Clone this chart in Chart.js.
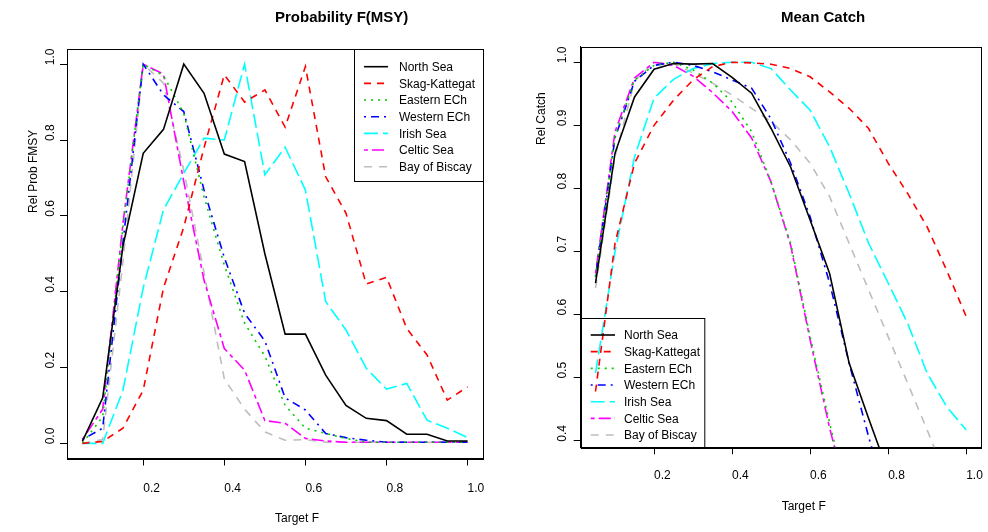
<!DOCTYPE html>
<html>
<head>
<meta charset="utf-8">
<script src="https://cdn.jsdelivr.net/npm/chart.js@4"></script>
<style>
  html, body { margin:0; padding:0; background:#fff; }
  #wrap { position:relative; width:988px; height:532px; overflow:hidden; }
  canvas { position:absolute; top:0; }
  #cProb { left:0; }
  #cCatch { left:500px; }
</style>
</head>
<body>
<div id="wrap">
  <canvas id="cProb" width="500" height="532"></canvas>
  <canvas id="cCatch" width="488" height="532"></canvas>
</div>
<script>
// ---- data ----
const targetF = [0.05,0.10,0.15,0.20,0.25,0.30,0.35,0.40,0.45,0.50,0.55,0.60,0.65,0.70,0.75,0.80,0.85,0.90,0.95,1.00];
const seriesNames = ['North Sea','Skag-Kattegat','Eastern ECh','Western ECh','Irish Sea','Celtic Sea','Bay of Biscay'];

// left panel: Rel Prob FMSY
const probNorthSea = [0.005,0.12,0.52,0.765,0.828,1.0,0.923,0.763,0.743,0.50,0.288,0.288,0.18,0.10,0.066,0.06,0.024,0.024,0.006,0.006];
const probSkag     = [0.0,0.005,0.04,0.14,0.41,0.57,0.78,0.972,0.90,0.932,0.834,0.994,0.703,0.607,0.42,0.438,0.303,0.233,0.114,0.149];
const probEastern  = [0.0,0.07,0.57,1.0,0.97,0.87,0.65,0.47,0.317,0.23,0.10,0.04,0.026,0.013,0.003,0.003,0.003,0.003,0.003,0.003];
const probWestern  = [0.01,0.04,0.53,1.0,0.919,0.875,0.668,0.49,0.343,0.27,0.12,0.088,0.026,0.015,0.008,0.003,0.003,0.003,0.003,0.003];
const probIrish    = [0.0,0.0,0.14,0.41,0.616,0.712,0.805,0.80,1.0,0.708,0.781,0.668,0.374,0.299,0.198,0.143,0.158,0.061,0.04,0.015];
const probCeltic   = [0.01,0.09,0.58,1.0,0.974,0.69,0.43,0.25,0.193,0.06,0.053,0.013,0.006,0.003,0.003,0.003,0.003,0.003,0.003,0.003];
const probBiscay   = [0.0,0.01,0.48,1.0,0.95,0.72,0.45,0.17,0.09,0.03,0.008,0.01,0.003,0.003,0.003,0.003,0.003,0.003,0.003,0.003];

// right panel: Rel Catch
const catchNorthSea = [0.65,0.856,0.945,0.989,0.998,0.997,0.998,0.976,0.951,0.895,0.834,0.75,0.665,0.523,0.435,0.35,0.27,0.20,0.14,0.08];
const catchSkag     = [0.478,0.713,0.84,0.90,0.94,0.972,0.993,1.0,0.999,0.997,0.99,0.977,0.953,0.927,0.895,0.84,0.792,0.739,0.67,0.597];
const catchEastern  = [0.66,0.882,0.972,0.995,1.0,0.988,0.967,0.937,0.89,0.81,0.713,0.565,0.428,0.30,0.20,0.12,0.06,0.02,0.0,0.0];
const catchWestern  = [0.66,0.88,0.97,0.995,1.0,0.995,0.985,0.972,0.959,0.91,0.84,0.755,0.65,0.523,0.406,0.30,0.20,0.12,0.05,0.0];
const catchIrish    = [0.507,0.70,0.85,0.943,0.973,0.99,0.998,1.0,1.0,0.99,0.956,0.924,0.866,0.792,0.713,0.65,0.586,0.507,0.454,0.417];
const catchCeltic   = [0.665,0.89,0.975,1.0,0.995,0.978,0.952,0.922,0.88,0.81,0.71,0.56,0.42,0.30,0.20,0.12,0.06,0.02,0.0,0.0];
const catchBiscay   = [0.642,0.85,0.97,1.0,0.998,0.983,0.967,0.948,0.927,0.906,0.877,0.84,0.787,0.713,0.639,0.565,0.491,0.417,0.34,0.26];

const xTicks = [0.2,0.4,0.6,0.8,1.0];
const probTicks = [0.0,0.2,0.4,0.6,0.8,1.0];
const catchTicks = [0.4,0.5,0.6,0.7,0.8,0.9,1.0];

// R-ish line styles, one per series
const lineColors = ['#000000','#ff0000','#00cd00','#0000ff','#00ffff','#ff00ff','#bebebe'];
const lineDash = [[], [7,6], [2,5], [2,5,8,5], [14,5], [4,4,12,4], [8,7]];

const FONT = '"Liberation Sans", Arial, sans-serif';

// draws the R style bits: box, tick labels, titles, legend
const rDeco = {
  id:'rDeco',
  afterDraw(chart, args, o){
    const {ctx, chartArea:a} = chart;
    const xs = chart.scales.x, ys = chart.scales.y;
    ctx.save();
    ctx.strokeStyle = '#000'; ctx.lineWidth = 1;
    ctx.strokeRect(Math.round(a.left)+0.5, Math.round(a.top)+0.5, Math.round(a.right-a.left), Math.round(a.bottom-a.top));

    ctx.fillStyle = '#000';
    ctx.font = '12px ' + FONT;
    ctx.textAlign = 'left'; ctx.textBaseline = 'alphabetic';
    xTicks.forEach(v => ctx.fillText(v.toFixed(1), xs.getPixelForValue(v), o.xTickY));
    o.yTicks.forEach(v => {
      ctx.save();
      ctx.translate(o.yTickX, ys.getPixelForValue(v) + 1);
      ctx.rotate(-Math.PI/2);
      ctx.fillText(v.toFixed(1), 0, 0);
      ctx.restore();
    });

    ctx.fillText('Target F', o.xlab[0], o.xlab[1]);
    ctx.save();
    ctx.translate(o.ylab[0], o.ylab[1]);
    ctx.rotate(-Math.PI/2);
    ctx.fillText(o.ylabText, 0, 0);
    ctx.restore();

    ctx.font = 'bold 15px ' + FONT;
    ctx.fillText(o.title, o.titlePos[0], o.titlePos[1]);

    // legend
    const L = o.legend;
    ctx.strokeStyle = '#000'; ctx.lineWidth = 1; ctx.setLineDash([]);
    ctx.strokeRect(L.x+0.5, L.y+0.5, L.w, L.h);
    ctx.font = '12px ' + FONT;
    ctx.textBaseline = 'middle';
    chart.data.datasets.forEach((ds, i) => {
      const yy = L.row0 + i*L.step;
      ctx.strokeStyle = ds.borderColor; ctx.lineWidth = ds.borderWidth;
      ctx.setLineDash(ds.borderDash);
      ctx.beginPath(); ctx.moveTo(L.lx0, yy); ctx.lineTo(L.lx1, yy); ctx.stroke();
      ctx.setLineDash([]);
      ctx.fillStyle = '#000';
      ctx.fillText(ds.label, L.tx, yy + 1);
    });
    ctx.restore();
  }
};

function makeDatasets(cols){
  return cols.map((d, i) => ({
    label: seriesNames[i], data: d,
    borderColor: lineColors[i], borderDash: lineDash[i], borderWidth: 1.6,
    pointRadius: 0, tension: 0, fill: false, clip: 0
  }));
}

function axisOpts(min, max, ticks, fitSize, isX){
  return {
    type:'linear', min, max,
    afterBuildTicks: s => { s.ticks = ticks.map(v => ({value:v})); },
    afterFit: s => { if (isX) s.height = fitSize; else s.width = fitSize; },
    ticks:{ display:false },
    grid:{ drawOnChartArea:false, drawTicks:true, tickLength:7, color:'#000', lineWidth:1 },
    border:{ display:true, color:'#000', width:1 }
  };
}

function makeChart(el, cols, yMin, yMax, yTicks, pad, xH, yW, deco){
  return new Chart(el.getContext('2d'), {
    type:'line',
    data:{ labels: targetF, datasets: makeDatasets(cols).map(ds => ({...ds, data: ds.data.map((v,k)=>({x:targetF[k], y:v}))})) },
    options:{
      responsive:false, animation:false, devicePixelRatio:1,
      layout:{ padding: pad },
      plugins:{ legend:{display:false}, tooltip:{enabled:false}, rDeco: {...deco, yTicks} },
      scales:{
        x: axisOpts(0.012, 1.038, xTicks, xH, true),
        y: axisOpts(yMin, yMax, yTicks, yW, false)
      }
    },
    plugins:[rDeco]
  });
}

makeChart(document.getElementById('cProb'),
  [probNorthSea, probSkag, probEastern, probWestern, probIrish, probCeltic, probBiscay],
  -0.04, 1.04, probTicks, {left:0, right:17, top:49, bottom:0}, 73.5, 67, {
    title:'Probability F(MSY)', titlePos:[275, 22],
    xlab:[275, 522], ylab:[37, 213], ylabText:'Rel Prob FMSY',
    xTickY:491.5, yTickX:54,
    legend:{ x:354, y:49, w:129, h:132, row0:66.7, step:16.67, lx0:364, lx1:388, tx:399 }
  });

makeChart(document.getElementById('cCatch'),
  [catchNorthSea, catchSkag, catchEastern, catchWestern, catchIrish, catchCeltic, catchBiscay],
  0.3895, 1.0247, catchTicks, {left:0, right:7, top:46.7, bottom:0}, 84.7, 80.7, {
    title:'Mean Catch', titlePos:[281, 21.7],
    xlab:[281.7, 510], ylab:[45, 145], ylabText:'Rel Catch',
    xTickY:479, yTickX:66,
    legend:{ x:80.7, y:318, w:123.6, h:129.3, row0:335, step:16.67, lx0:90.7, lx1:115, tx:124 }
  });
</script>
</body>
</html>
